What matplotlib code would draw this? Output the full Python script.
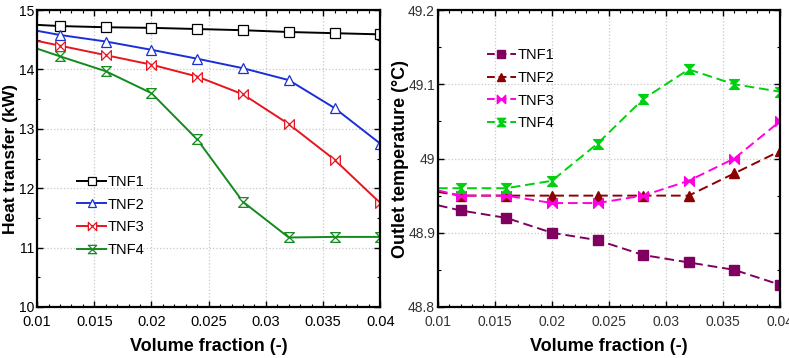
import numpy as np
import matplotlib
matplotlib.use("Agg")
import matplotlib.pyplot as plt
from matplotlib.path import Path
from matplotlib.ticker import MultipleLocator, AutoMinorLocator

plt.rcParams['font.family'] = ['Liberation Sans', 'DejaVu Sans']

# volume fraction (first point has no marker)
phi = [0.01, 0.012, 0.016, 0.02, 0.024, 0.028, 0.032, 0.036, 0.04]
labels = ['TNF1', 'TNF2', 'TNF3', 'TNF4']

# heat transfer (kW)
q_tnf1 = [14.75, 14.73, 14.71, 14.70, 14.68, 14.66, 14.63, 14.61, 14.59]
q_tnf2 = [14.65, 14.58, 14.47, 14.33, 14.18, 14.02, 13.82, 13.35, 12.75]
q_tnf3 = [14.48, 14.40, 14.24, 14.08, 13.88, 13.58, 13.08, 12.48, 11.75]
q_tnf4 = [14.35, 14.22, 13.97, 13.60, 12.82, 11.77, 11.17, 11.18, 11.18]

# outlet temperature (deg C)
t_tnf1 = [48.937, 48.93, 48.92, 48.90, 48.89, 48.87, 48.86, 48.85, 48.83]
t_tnf2 = [48.955, 48.95, 48.95, 48.95, 48.95, 48.95, 48.95, 48.98, 49.01]
t_tnf3 = [48.957, 48.95, 48.95, 48.94, 48.94, 48.95, 48.97, 49.00, 49.05]
t_tnf4 = [48.96, 48.96, 48.96, 48.97, 49.02, 49.08, 49.12, 49.10, 49.09]

xtick_vals = [0.01, 0.015, 0.02, 0.025, 0.03, 0.035, 0.04]
xtick_text = ['0.01', '0.015', '0.02', '0.025', '0.03', '0.035', '0.04']

# bowtie markers
bowtie = Path([(-1, -1), (1, 1), (1, -1), (-1, 1), (-1, -1)],
              [Path.MOVETO, Path.LINETO, Path.LINETO, Path.LINETO, Path.CLOSEPOLY])
hourglass = Path([(-1, 1), (1, 1), (-1, -1), (1, -1), (-1, 1)],
                 [Path.MOVETO, Path.LINETO, Path.LINETO, Path.LINETO, Path.CLOSEPOLY])


def style_axes(ax, ylo, yhi, ystep):
    ax.set_xlim(0.01, 0.04)
    ax.set_ylim(ylo, yhi)
    ax.xaxis.set_major_locator(MultipleLocator(0.005))
    ax.yaxis.set_major_locator(MultipleLocator(ystep))
    ax.xaxis.set_minor_locator(AutoMinorLocator(5))
    ax.yaxis.set_minor_locator(AutoMinorLocator(2))
    ax.grid(True, which='major', linestyle=':', color='#c8c8c8', linewidth=0.9)
    ax.tick_params(which='both', direction='in', top=True, right=True)
    ax.tick_params(axis='x', pad=6)
    ax.tick_params(axis='y', pad=2)
    ax.tick_params(which='major', length=4, width=1)
    ax.tick_params(which='minor', length=2, width=0.8)
    for s in ax.spines.values():
        s.set_linewidth(1.6)
    ax.set_xlabel('Volume fraction (-)', fontsize=13, fontweight='bold', labelpad=6)


fig = plt.figure(figsize=(7.89, 3.58), dpi=100)
ax1 = fig.add_axes([0.047, 0.1425, 0.435, 0.8295])
ax2 = fig.add_axes([0.555, 0.1425, 0.4335, 0.8295])

# left panel
left_series = [q_tnf1, q_tnf2, q_tnf3, q_tnf4]
left_colors = ['black', '#1a2fd6', '#e8141e', '#138a1e']
left_markers = ['s', '^', bowtie, hourglass]
for y, c, m in zip(left_series, left_colors, left_markers):
    ax1.plot(phi, y, color=c, linewidth=1.4)
    ax1.plot(phi[1:], y[1:], linestyle='none', marker=m, markersize=7,
             markerfacecolor='white', markeredgecolor=c, markeredgewidth=0.9)
style_axes(ax1, 10, 15, 1)
ax1.set_ylabel('Heat transfer (kW)', fontsize=12.5, fontweight='bold')
ax1.yaxis.set_label_coords(-0.056, 0.5)
ax1.set_xticks(xtick_vals)
ax1.set_xticklabels(xtick_text, fontsize=10.5)
ax1.set_yticks([10, 11, 12, 13, 14, 15])
ax1.set_yticklabels(['10', '11', '12', '13', '14', '15'], fontsize=10)

handles = []
for c, m in zip(left_colors, left_markers):
    h, = ax1.plot([], [], color=c, linewidth=1.4, marker=m, markersize=6,
                  markerfacecolor='white', markeredgecolor=c, markeredgewidth=0.9)
    handles.append(h)
ax1.legend(handles, labels, loc='upper left', bbox_to_anchor=(0.117, 0.445),
           frameon=False, fontsize=10.5, handlelength=2.0, handletextpad=0.1,
           labelspacing=0.6, borderpad=0, borderaxespad=0)

# right panel
right_series = [t_tnf1, t_tnf2, t_tnf3, t_tnf4]
right_colors = ['#800060', '#8b0000', '#ff00e0', '#00d010']
right_markers = ['s', '^', bowtie, hourglass]
for y, c, m in zip(right_series, right_colors, right_markers):
    ax2.plot(phi, y, color=c, linewidth=1.4, dashes=(5, 2.5))
    ax2.plot(phi[1:], y[1:], linestyle='none', marker=m, markersize=7,
             color=c, markeredgecolor=c)
style_axes(ax2, 48.8, 49.2, 0.1)
ax2.set_ylabel('Outlet temperature (\u00b0C)', fontsize=13, fontweight='bold')
ax2.yaxis.set_label_coords(-0.085, 0.5)
ax2.set_xticks(xtick_vals)
ax2.set_xticklabels(xtick_text, fontsize=10, color='#333333')
ax2.set_yticks([48.8, 48.9, 49.0, 49.1, 49.2])
ax2.set_yticklabels(['48.8', '48.9', '49', '49.1', '49.2'], fontsize=10,
                    color='#333333')
ax2.yaxis.set_minor_locator(AutoMinorLocator(2))

handles2 = []
for c, m in zip(right_colors, right_markers):
    h, = ax2.plot([], [], color=c, linewidth=1.4, dashes=(4, 2), marker=m,
                  markersize=6, markeredgecolor=c)
    handles2.append(h)
ax2.legend(handles2, labels, loc='upper left', bbox_to_anchor=(0.143, 0.872),
           frameon=False, fontsize=10.5, handlelength=2.0, handletextpad=0.1,
           labelspacing=0.6, borderpad=0, borderaxespad=0)

fig.savefig('out.png', dpi=100)
